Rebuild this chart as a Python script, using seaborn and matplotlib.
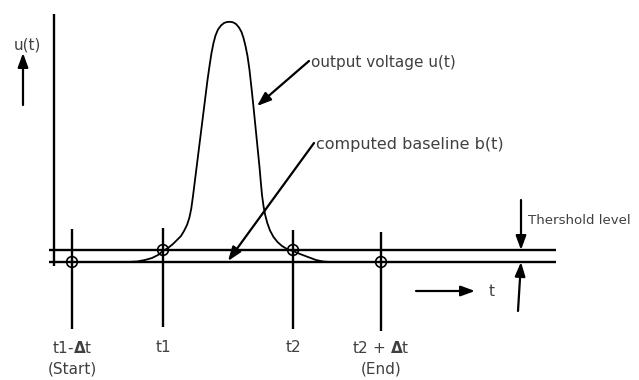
# plot.py
# Schematic of a peak detection window: output voltage pulse, computed baseline,
# threshold level and the start / end markers, drawn on a pixel-like scale.

import matplotlib
matplotlib.use("Agg")
import matplotlib.pyplot as plt
import seaborn as sns
import pandas as pd

# pulse u(t) (x, y in picture units, y grows downward)
pulse_t = [128, 137, 145, 152, 158, 163, 168, 173, 177, 181, 184, 187, 189.3,
           191.2, 193, 195, 197.5, 200, 202.5, 205, 207.5, 209.5, 211.5, 213.5,
           215.5, 218, 221, 224, 227, 230,
           233, 236, 239, 241.5, 243.5, 245.5, 247.5, 249.5, 251.5, 253.5,
           255.5, 257.5, 259.5, 260.8, 262, 263.5, 265.2, 267.3, 270, 273.5,
           277.5, 282, 287, 293, 300, 308, 316, 323, 330]
pulse_u = [262, 261.5, 260, 258, 255, 251, 248, 244, 240, 236, 231, 225, 218,
           209, 196, 180, 160, 140, 120, 100, 80, 66, 53, 43,
           35.5, 29.5, 25.5, 23, 22, 21.8,
           22.3, 24, 27.5, 32, 38, 46, 56, 70, 88, 107,
           127, 147, 167, 182, 195, 206, 215, 223, 230.5, 237,
           242, 246, 249, 251, 254, 257, 260, 261.5, 262]

threshold_level = 250
baseline_level = 262
line_start, line_end = 49, 556

# marker times and where they hit the threshold / baseline
marker_t = [72, 163, 293, 381]
marker_u = [262, 250, 250, 262]
marker_top = [229, 228, 230, 232]
marker_bottom = [329, 327, 329, 331]
marker_labels = [r"t1-$\mathbf{\Delta}$t", "t1", "t2", r"t2 + $\mathbf{\Delta}$t"]
marker_sublabels = ["(Start)", "", "", "(End)"]

sns.set_theme(style="white")
plt.rcParams["font.family"] = ["DejaVu Sans"]

fig = plt.figure(figsize=(6.39, 3.80), dpi=100)
ax = fig.add_axes([0, 0, 1, 1])
ax.set_xlim(0, 639)
ax.set_ylim(380, 0)
ax.axis("off")

ink = "black"
text_col = "#404040"

# u axis
ax.vlines(54, 14, 266, color=ink, lw=1.7)

# threshold and baseline
ax.hlines([threshold_level, baseline_level], line_start, line_end, color=ink, lw=1.7)

# marker lines
ax.vlines(marker_t, marker_top, marker_bottom, color=ink, lw=1.7)

# pulse
pulse_df = pd.DataFrame({"t": pulse_t, "u": pulse_u})
sns.lineplot(data=pulse_df, x="t", y="u", sort=False, estimator=None,
             color=ink, lw=1.3, ax=ax)

# crossing circles
circ_df = pd.DataFrame({"t": marker_t, "u": marker_u})
sns.scatterplot(data=circ_df, x="t", y="u", s=60, facecolor="none",
                edgecolor=ink, linewidth=1.2, ax=ax, zorder=5)
ax.set_xlim(0, 639)
ax.set_ylim(380, 0)
ax.set_xlabel("")
ax.set_ylabel("")

# labels below the markers
for t, lab, sub in zip(marker_t, marker_labels, marker_sublabels):
    ax.text(t, 348, lab, ha="center", va="center", fontsize=11, color=text_col)
    if sub:
        ax.text(t, 369, sub, ha="center", va="center", fontsize=11, color=text_col)

head = "-|>,head_length=0.6,head_width=0.22"


def arrow(x0, y0, x1, y1):
    ax.annotate("", xy=(x1, y1), xytext=(x0, y0),
                arrowprops=dict(arrowstyle=head, color=ink, lw=1.6,
                                mutation_scale=14, shrinkA=0, shrinkB=0))


# u(t) axis label
ax.text(14, 45, "u(t)", ha="left", va="center", fontsize=11, color=text_col)
arrow(23, 105, 23, 53)

# t direction
arrow(416, 291, 475, 291)
ax.text(489, 291, "t", ha="left", va="center", fontsize=11, color=text_col)

# threshold level bracket
arrow(521, 200, 521, 250)
arrow(518, 311, 521, 262)
ax.text(528, 221, "Thershold level", ha="left", va="center", fontsize=9.6,
        color=text_col)

# callouts
arrow(309, 61, 257, 106)
ax.text(311, 62, "output voltage u(t)", ha="left", va="center", fontsize=11,
        color=text_col)
arrow(314, 143, 228, 261)
ax.text(316, 144, "computed baseline b(t)", ha="left", va="center", fontsize=11.5,
        color=text_col)

fig.savefig("out.png", dpi=100, facecolor="white")
